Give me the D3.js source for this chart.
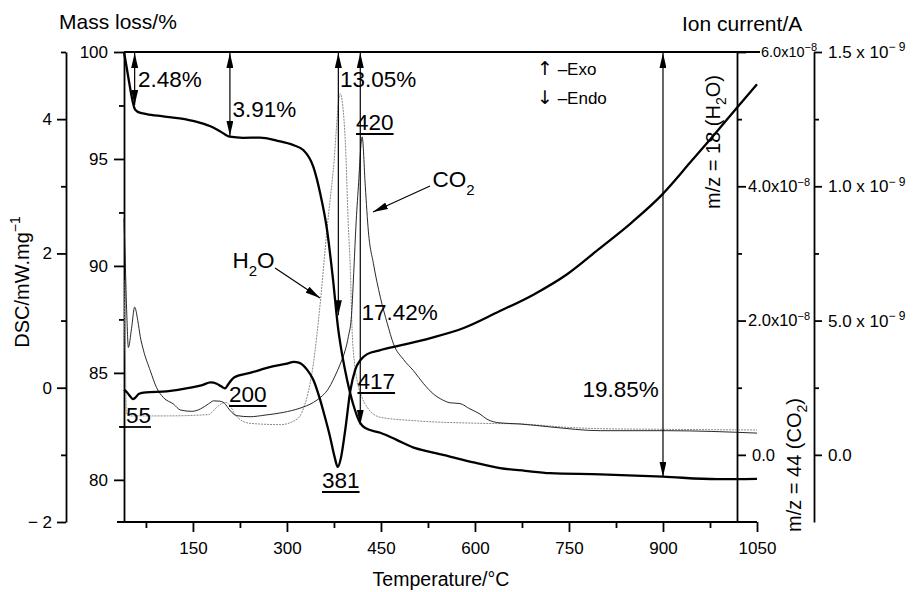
<!DOCTYPE html>
<html>
<head>
<meta charset="utf-8">
<script src="https://cdn.jsdelivr.net/npm/d3@7"></script>
<style>
  body { margin: 0; background: #fff; }
  svg { font-family: "Liberation Sans", Arial, Helvetica, sans-serif; }
</style>
</head>
<body>
<div id="chart"></div>
<script>
(function () {

  // ---- data ----
  // [temperature °C, mass %]
  var tgCurve = [[40,100],[44,99.32],[48,98.62],[52,97.95],[57,97.35],[62,97.2],[76,97.1],[100,97.0],[129,96.9],[155,96.75],[177,96.54],[193,96.3],[209,96.04],[230,95.99],[257,96.0],[285,95.85],[310,95.65],[326,95.42],[342,94.64],[353,93.4],[364,91.68],[373,89.5],[382,87.0],[389,85.7],[396,84.67],[406,83.5],[417,82.65],[425,82.42],[449,82.2],[475,81.87],[501,81.52],[530,81.3],[560,81.09],[600,80.8],[640,80.55],[680,80.42],[720,80.31],[800,80.26],[900,80.15],[986,80.03],[1050,80.05]]

  // [temperature °C, DSC mW/mg]
  var dscCurve = [[40,-0.03],[45,-0.07],[50,-0.13],[54,-0.17],[58,-0.15],[64,-0.09],[75,-0.07],[108,-0.055],[146,0.0],[165,0.04],[178,0.08],[188,0.06],[195,0.02],[201,-0.01],[207,0.06],[215,0.15],[241,0.22],[279,0.32],[300,0.36],[311,0.385],[320,0.37],[332,0.27],[342,0.12],[353,-0.18],[361,-0.45],[369,-0.74],[376,-1.03],[381,-1.18],[386,-1.05],[393,-0.63],[401,-0.05],[409,0.27],[418,0.42],[428,0.5],[449,0.56],[476,0.62],[529,0.74],[582,0.89],[635,1.12],[694,1.39],[747,1.69],[797,2.06],[850,2.46],[899,2.88],[944,3.36],[980,3.75],[1018,4.17],[1050,4.52]]

  // [temperature °C, ion current m/z 18 in 1e-8 A]
  var h2oCurve = [[40,2.6],[42,1.5],[44,0.62],[50,0.58],[108,0.58],[175,0.6],[185,0.68],[192,0.74],[203,0.78],[210,0.72],[216,0.62],[222,0.55],[241,0.47],[290,0.45],[310,0.5],[321,0.58],[327,0.71],[332,0.86],[342,1.35],[353,2.25],[364,3.37],[374,4.25],[385,5.38],[393,4.69],[398,3.4],[401,2.8],[404,1.85],[408,1.35],[412,1.1],[420,0.85],[428,0.71],[449,0.56],[502,0.51],[608,0.47],[672,0.46],[747,0.41],[800,0.39],[906,0.38],[1050,0.37]]

  // [temperature °C, ion current m/z 44 in 1e-9 A]
  var co2Curve = [[40,0.88],[42,0.72],[44.5,0.52],[47,0.4],[52,0.47],[57,0.55],[62,0.5],[66,0.44],[71,0.39],[82,0.313],[92,0.25],[103,0.213],[119,0.189],[130,0.167],[148,0.162],[162,0.171],[175,0.19],[183,0.201],[192,0.2],[199,0.195],[206,0.175],[212,0.158],[220,0.146],[241,0.142],[265,0.148],[294,0.158],[321,0.174],[342,0.195],[354,0.215],[364,0.239],[376,0.29],[385,0.338],[393,0.39],[398,0.44],[403,0.52],[407,0.7],[410,0.85],[414,1.0],[420,1.184],[425,1.0],[430,0.83],[438,0.712],[449,0.587],[460,0.49],[470,0.413],[486,0.355],[502,0.313],[518,0.265],[534,0.226],[548,0.205],[560,0.194],[576,0.191],[592,0.171],[608,0.152],[619,0.133],[640,0.119],[672,0.115],[720,0.104],[800,0.09],[906,0.09],[1050,0.081]]

  // mass loss steps: label, temperature of arrow, mass at arrow end
  var stepLabels = ["2.48%", "3.91%", "13.05%", "17.42%", "19.85%"]
  var stepTemps = [57, 209, 382, 417, 900]
  var stepEnds = [97.52, 96.09, 87.7, 82.58, 80.15]

  var tempTicks = [150, 300, 450, 600, 750, 900, 1050]
  var tempMinor = [75, 225, 375, 525, 675, 825, 975]
  var massTicks = [80, 85, 90, 95, 100]
  var massMinor = [82.5, 87.5, 92.5, 97.5]
  var dscTicks = [-2, 0, 2, 4]
  var dscMinor = [-1, 1, 3, 5]
  var h2oTicks = [0, 2, 4, 6]
  var h2oLabels = ["0.0", "2.0x10", "4.0x10", "6.0x10"]
  var h2oMinor = [1, 3, 5]
  var co2Ticks = [0, 0.5, 1, 1.5]
  var co2Labels = ["0.0", "5.0 x 10", "1.0 x 10", "1.5 x 10"]
  var co2Minor = [0.25, 0.75, 1.25]

  // ---- svg ----
  var width = 913, height = 592

  var svg = d3.select("#chart").append("svg")
    .attr("width", width)
    .attr("height", height)

  var font = '"Liberation Sans", Arial, Helvetica, sans-serif'

  // scales
  var x = d3.scaleLinear().domain([40, 1050]).range([124, 757])
  var yMass = d3.scaleLinear().domain([78.03, 100]).range([522, 52])
  var yDsc = d3.scaleLinear().domain([-2, 5]).range([522, 52])
  var yH2o = d3.scaleLinear().domain([-1, 6]).range([522, 52])
  var yCo2 = d3.scaleLinear().domain([-0.25, 1.5]).range([522, 52])

  function styleAxis(g, size) {
    g.attr("font-family", font).attr("font-size", size)
    g.selectAll("path, line").attr("stroke", "#000").attr("stroke-width", 1.8)
    g.selectAll("text").attr("fill", "#000")
  }

  function addAxis(tx, ty, axis, size) {
    var g = svg.append("g")
      .attr("transform", "translate(" + tx + "," + ty + ")")
      .call(axis)
    styleAxis(g, size)
    return g
  }

  // frame lines
  svg.append("line").attr("x1", 124).attr("x2", 760).attr("y1", 52).attr("y2", 52)
    .attr("stroke", "#000").attr("stroke-width", 1.8)
  svg.append("line").attr("x1", 117).attr("x2", 757).attr("y1", 522).attr("y2", 522)
    .attr("stroke", "#000").attr("stroke-width", 1.8)

  // x axis
  var xAxis = addAxis(0, 522, d3.axisBottom(x).tickValues(tempTicks).tickSize(10).tickSizeOuter(0).tickPadding(10)
    .tickFormat(d3.format("d")), 17)
  xAxis.select(".domain").remove()
  addAxis(0, 522, d3.axisBottom(x).tickValues(tempMinor).tickSize(6).tickFormat(""), 17)
    .select(".domain").remove()

  // DSC axis (far left)
  addAxis(66, 0, d3.axisLeft(yDsc).tickValues(dscTicks).tickSize(9).tickSizeOuter(0).tickPadding(5)
    .tickFormat(function (d) { return d < 0 ? "\u2212 " + Math.abs(d) : d }), 17)
  addAxis(66, 0, d3.axisLeft(yDsc).tickValues(dscMinor).tickSize(5).tickFormat(""), 17)
    .select(".domain").remove()

  // mass axis
  addAxis(124, 0, d3.axisLeft(yMass).tickValues(massTicks).tickSize(10).tickSizeOuter(0).tickPadding(6), 17)
  addAxis(124, 0, d3.axisLeft(yMass).tickValues(massMinor).tickSize(5).tickFormat(""), 17)
    .select(".domain").remove()

  // H2O ion current axis
  var h2oAxis = addAxis(737, 0, d3.axisRight(yH2o).tickValues(h2oTicks).tickSize(9).tickSizeOuter(0).tickPadding(2)
    .tickFormat(function (d, i) { return h2oLabels[i] }), 16.5)
  h2oAxis.selectAll(".tick text").each(function (d) {
    var t = d3.select(this)
    if (d === 0) { t.attr("x", 15); return }
    if (d === 6) { t.attr("x", 24).attr("font-size", 14.5) }
    t.append("tspan").attr("dy", "-0.55em").attr("font-size", 11).text("\u22128")
  })
  addAxis(737, 0, d3.axisRight(yH2o).tickValues(h2oMinor).tickSize(5).tickFormat(""), 16)
    .select(".domain").remove()

  // CO2 ion current axis
  var co2Axis = addAxis(814, 0, d3.axisRight(yCo2).tickValues(co2Ticks).tickSize(8).tickSizeOuter(0).tickPadding(6)
    .tickFormat(function (d, i) { return co2Labels[i] }), 17)
  co2Axis.selectAll(".tick text").each(function (d) {
    if (d === 0) return
    d3.select(this).append("tspan").attr("dy", "-0.55em").attr("font-size", 12).text("\u2212 9")
  })
  addAxis(814, 0, d3.axisRight(yCo2).tickValues(co2Minor).tickSize(5).tickFormat(""), 17)
    .select(".domain").remove()

  // ---- curves ----
  function lineFor(yScale) {
    return d3.line()
      .x(function (d) { return x(d[0]) })
      .y(function (d) { return yScale(d[1]) })
      .curve(d3.curveMonotoneX)
  }

  svg.append("path").datum(h2oCurve)
    .attr("d", lineFor(yH2o))
    .attr("fill", "none").attr("stroke", "#8a8a8a").attr("stroke-width", 1)
    .attr("stroke-dasharray", "2,1")

  svg.append("path").datum(co2Curve)
    .attr("d", lineFor(yCo2))
    .attr("fill", "none").attr("stroke", "#111").attr("stroke-width", 0.9)

  svg.append("path").datum(dscCurve)
    .attr("d", lineFor(yDsc))
    .attr("fill", "none").attr("stroke", "#000").attr("stroke-width", 2.3)

  svg.append("path").datum(tgCurve)
    .attr("d", lineFor(yMass))
    .attr("fill", "none").attr("stroke", "#000").attr("stroke-width", 2.3)

  // ---- arrows ----
  var defs = svg.append("defs")
  defs.append("marker")
    .attr("id", "head")
    .attr("viewBox", "0 0 15 7")
    .attr("refX", 15).attr("refY", 3.5)
    .attr("markerWidth", 15).attr("markerHeight", 7)
    .attr("markerUnits", "userSpaceOnUse")
    .attr("orient", "auto-start-reverse")
    .append("path").attr("d", "M0,0L15,3.5L0,7Z").attr("fill", "#000")

  stepTemps.forEach(function (t, i) {
    svg.append("line")
      .attr("x1", x(t)).attr("x2", x(t))
      .attr("y1", yMass(100) + 1).attr("y2", yMass(stepEnds[i]))
      .attr("stroke", "#000").attr("stroke-width", 1.2)
      .attr("marker-start", "url(#head)")
      .attr("marker-end", "url(#head)")
  })

  // pointer arrows for gas labels
  svg.append("line").attr("x1", 275).attr("y1", 268).attr("x2", 320).attr("y2", 298)
    .attr("stroke", "#000").attr("stroke-width", 1.1).attr("marker-end", "url(#head)")
  svg.append("line").attr("x1", 430).attr("y1", 186).attr("x2", 373).attr("y2", 212)
    .attr("stroke", "#000").attr("stroke-width", 1.1).attr("marker-end", "url(#head)")

  // ---- text ----
  function txt(s, px, py, size) {
    return svg.append("text").attr("x", px).attr("y", py)
      .attr("font-size", size).attr("fill", "#000").text(s)
  }

  var stepPos = [[138, 87], [232.5, 117], [340, 87], [361.5, 320], [582.5, 397]]
  stepLabels.forEach(function (s, i) {
    txt(s, stepPos[i][0], stepPos[i][1], 22.5)
  })

  // underlined peak temperatures
  var peaks = [["55", 126, 423, 120], ["200", 229, 402, null], ["381", 322, 488, null], ["417", 357.5, 389, null], ["420", 356, 130, null]]
  peaks.forEach(function (p) {
    var t = txt(p[0], p[1], p[2], 22.5)
    var b = t.node().getBBox()
    svg.append("line")
      .attr("x1", p[3] !== null ? p[3] : b.x).attr("x2", b.x + b.width)
      .attr("y1", p[2] + 4).attr("y2", p[2] + 4)
      .attr("stroke", "#000").attr("stroke-width", 1.8)
  })

  // gas labels
  var h2o = txt("H", 232.5, 268, 22.5)
  h2o.append("tspan").attr("dy", 8).attr("font-size", 15).text("2")
  h2o.append("tspan").attr("dy", -8).text("O")
  var co2 = txt("CO", 432.5, 187, 22.5)
  co2.append("tspan").attr("dy", 8).attr("font-size", 15).text("2")

  // exo / endo
  var exo = txt("", 537, 75, 17)
  exo.append("tspan").attr("font-family", "DejaVu Sans").attr("font-size", 19).text("\u2191")
  exo.append("tspan").text(" \u2013Exo")
  var endo = txt("", 537, 104, 17)
  endo.append("tspan").attr("font-family", "DejaVu Sans").attr("font-size", 19).text("\u2193")
  endo.append("tspan").text(" \u2013Endo")

  // axis titles
  txt("Mass loss/%", 59, 29, 21)
  txt("Ion current/A", 682, 31, 21)
  txt("Temperature/\u00b0C", 441, 586, 19.5).attr("text-anchor", "middle")

  var dsc = svg.append("text")
    .attr("transform", "translate(29,282) rotate(-90)")
    .attr("text-anchor", "middle").attr("font-size", 20).attr("fill", "#000")
    .text("DSC/mW.mg")
  dsc.append("tspan").attr("dy", -9).attr("font-size", 14).text("\u22121")

  var mz18 = svg.append("text")
    .attr("transform", "translate(720,142) rotate(-90)")
    .attr("text-anchor", "middle").attr("font-size", 20).attr("fill", "#000")
    .text("m/z = 18 (H")
  mz18.append("tspan").attr("dy", 6).attr("font-size", 14).text("2")
  mz18.append("tspan").attr("dy", -6).text("O)")

  var mz44 = svg.append("text")
    .attr("transform", "translate(801,465) rotate(-90)")
    .attr("text-anchor", "middle").attr("font-size", 20).attr("fill", "#000")
    .text("m/z = 44 (CO")
  mz44.append("tspan").attr("dy", 6).attr("font-size", 14).text("2")
  mz44.append("tspan").attr("dy", -6).text(")")

})()
</script>
</body>
</html>
